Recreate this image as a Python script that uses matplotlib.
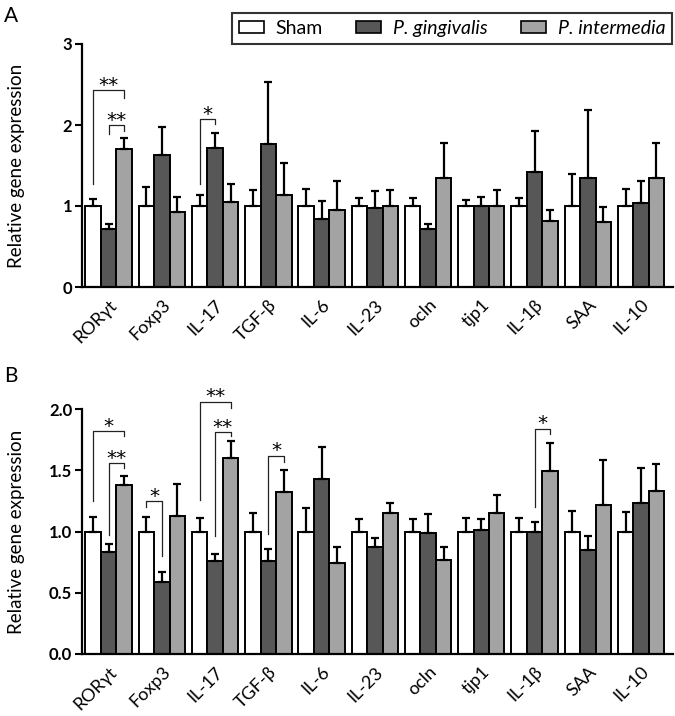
import numpy as np
import matplotlib
matplotlib.use("Agg")
import matplotlib.pyplot as plt
from matplotlib.patches import Patch

plt.rcParams['font.family'] = ['Lato', 'Open Sans', 'DejaVu Sans']

genes = ['RORγt', 'Foxp3', 'IL-17', 'TGF-β', 'IL-6', 'IL-23', 'ocln', 'tjp1', 'IL-1β', 'SAA', 'IL-10']
groups = ['Sham', 'P. gingivalis', 'P. intermedia']

# panel A: mean and upper error (SEM)
sham_A = [1.0, 1.0, 1.0, 1.0, 1.0, 1.0, 1.0, 1.0, 1.0, 1.0, 1.0]
sham_A_err = [0.09, 0.24, 0.14, 0.20, 0.21, 0.10, 0.10, 0.08, 0.10, 0.39, 0.21]
pg_A = [0.71, 1.63, 1.72, 1.77, 0.84, 0.98, 0.71, 1.00, 1.42, 1.34, 1.04]
pg_A_err = [0.07, 0.35, 0.18, 0.76, 0.22, 0.20, 0.07, 0.11, 0.51, 0.85, 0.27]
pi_A = [1.70, 0.92, 1.05, 1.14, 0.95, 1.00, 1.34, 1.00, 0.82, 0.80, 1.34]
pi_A_err = [0.14, 0.19, 0.22, 0.39, 0.36, 0.20, 0.44, 0.20, 0.13, 0.19, 0.44]

# panel B
sham_B = [1.0, 1.0, 1.0, 1.0, 1.0, 1.0, 1.0, 1.0, 1.0, 1.0, 1.0]
sham_B_err = [0.12, 0.12, 0.11, 0.15, 0.19, 0.10, 0.10, 0.11, 0.11, 0.17, 0.16]
pg_B = [0.83, 0.59, 0.76, 0.76, 1.43, 0.87, 0.99, 1.01, 1.00, 0.85, 1.23]
pg_B_err = [0.07, 0.08, 0.06, 0.10, 0.26, 0.08, 0.15, 0.09, 0.08, 0.11, 0.29]
pi_B = [1.38, 1.13, 1.60, 1.32, 0.74, 1.15, 0.77, 1.15, 1.49, 1.22, 1.33]
pi_B_err = [0.07, 0.26, 0.14, 0.18, 0.13, 0.08, 0.10, 0.15, 0.23, 0.36, 0.22]

# significance brackets: (gene, bar1, bar2, top, left leg end, right leg end, label)
sig_A = [(0, 0, 2, 2.43, 1.27, 2.33, '**'),
         (0, 1, 2, 2.00, 1.89, 1.93, '**'),
         (2, 0, 1, 2.07, 1.27, 2.01, '*')]
sig_B = [(0, 0, 2, 1.82, 1.25, 1.78, '*'),
         (0, 1, 2, 1.56, 0.97, 1.52, '**'),
         (1, 0, 1, 1.25, 1.20, 0.80, '*'),
         (2, 0, 2, 2.06, 1.26, 2.01, '**'),
         (2, 1, 2, 1.81, 0.96, 1.78, '**'),
         (3, 1, 2, 1.62, 0.98, 1.57, '*'),
         (8, 1, 2, 1.84, 1.20, 1.80, '*')]

colors = ['white', '#575757', '#a3a3a3']
bw = 0.29
x = np.arange(len(genes))


def draw_panel(ax, means, errs, sigs, ymax, yticks, fmt):
    for k in range(3):
        pos = x + (k - 1) * bw
        ax.bar(pos, means[k], width=bw, color=colors[k], edgecolor='black',
               linewidth=1.4, zorder=2)
        ax.errorbar(pos, means[k], yerr=[np.zeros(len(genes)), errs[k]], fmt='none',
                    ecolor='black', elinewidth=1.6, capsize=3, capthick=1.6, zorder=3)
    for g, a, b, top, yl, yr, lab in sigs:
        xa = g + (a - 1) * bw
        xb = g + (b - 1) * bw
        ax.plot([xa, xa, xb, xb], [yl, top, top, yr], color='#222222', lw=0.9,
                clip_on=False, zorder=4)
        ax.annotate(lab, ((xa + xb) / 2, top), xytext=(0, 3.5), textcoords='offset points',
                    ha='center', va='center', fontsize=14.5, family='DejaVu Sans',
                    annotation_clip=False)
    ax.set_xlim(-0.5, 10.6)
    ax.set_ylim(0, ymax)
    ax.set_yticks(yticks)
    ax.set_yticklabels([fmt % t for t in yticks], fontweight='bold', fontsize=12)
    ax.set_xticks(x)
    ax.set_xticklabels(genes, rotation=45, ha='right', va='top', rotation_mode='anchor',
                       fontsize=13)
    ax.tick_params(axis='x', length=0, pad=7)
    ax.tick_params(axis='y', direction='out', length=5, width=1.5, pad=2)
    for s in ['top', 'right']:
        ax.spines[s].set_visible(False)
    for s in ['left', 'bottom']:
        ax.spines[s].set_linewidth(1.6)
    ax.set_ylabel('Relative gene expression', fontsize=13.5)
    ax.yaxis.set_label_coords(-0.097, 0.5)


fig = plt.figure(figsize=(6.75, 7.16), dpi=100)
axA = fig.add_axes([82 / 675, 1 - 287 / 716, 591 / 675, 243 / 716])
axB = fig.add_axes([82 / 675, 1 - 654 / 716, 591 / 675, 245 / 716])

draw_panel(axA, [sham_A, pg_A, pi_A], [sham_A_err, pg_A_err, pi_A_err], sig_A,
           3, [0, 1, 2, 3], '%d')
draw_panel(axB, [sham_B, pg_B, pi_B], [sham_B_err, pg_B_err, pi_B_err], sig_B,
           2.0, [0, 0.5, 1.0, 1.5, 2.0], '%.1f')

fig.text(4 / 675, 1 - 6 / 716, 'A', fontsize=15, ha='left', va='top')
fig.text(4 / 675, 1 - 366 / 716, 'B', fontsize=15, ha='left', va='top')

handles = [Patch(facecolor=c, edgecolor='black', linewidth=1.2) for c in colors]
leg = fig.legend(handles, groups, loc='upper right', bbox_to_anchor=(672 / 675, 1 - 13 / 716),
                 ncol=3, frameon=True, fancybox=False, fontsize=14, handlelength=1.3,
                 handleheight=0.55, handletextpad=0.6, columnspacing=1.7,
                 borderpad=0.35, borderaxespad=0)
leg.get_frame().set_edgecolor('black')
leg.get_frame().set_linewidth(1.5)
for t in leg.get_texts()[1:]:
    t.set_fontstyle('italic')

fig.savefig('out.png', dpi=100)
